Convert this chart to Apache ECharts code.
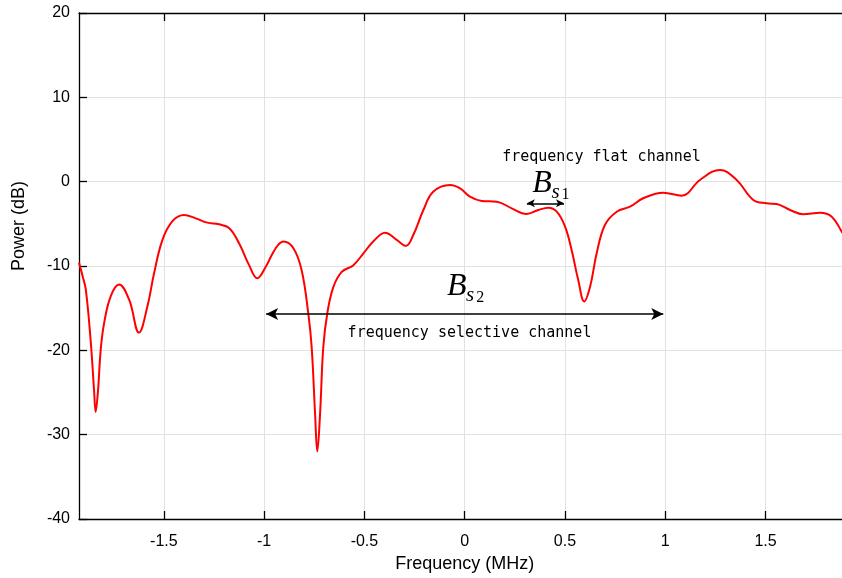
<!DOCTYPE html>
<html>
<head>
<meta charset="utf-8">
<script src="https://cdn.jsdelivr.net/npm/echarts@6/dist/echarts.min.js"></script>
<style>
html,body{margin:0;padding:0;background:#fff;}
#myChart{width:842px;height:578px;}
</style>
</head>
<body>
<div id="myChart"></div>
<script type="text/javascript">
// spectrum curve
var freqMHz = [-1.923, -1.904, -1.889, -1.865, -1.848, -1.840, -1.828, -1.815, -1.798, -1.765,
	-1.723, -1.673, -1.624, -1.582, -1.549, -1.507, -1.458, -1.399, -1.341, -1.283,
	-1.225, -1.175, -1.125, -1.075, -1.034, -0.992, -0.960, -0.930, -0.904, -0.854,
	-0.813, -0.780, -0.763, -0.746, -0.735, -0.721, -0.705, -0.685, -0.655, -0.613,
	-0.555, -0.505, -0.456, -0.397, -0.339, -0.293, -0.256, -0.206, -0.157, -0.073,
	-0.023, 0.026, 0.085, 0.160, 0.234, 0.309, 0.367, 0.417, 0.459, 0.500,
	0.533, 0.566, 0.596, 0.625, 0.658, 0.699, 0.758, 0.824, 0.890, 0.990,
	1.082, 1.173, 1.273, 1.356, 1.439, 1.505, 1.555, 1.622, 1.688, 1.771,
	1.830, 1.880, 1.923];
var powerDb = [-9.6, -11.3, -12.8, -18.8, -24.7, -27.3, -24.7, -20.0, -16.8, -13.6,
	-12.2, -14.0, -17.9, -14.8, -10.9, -6.9, -4.7, -3.95, -4.35, -4.86,
	-5.06, -5.5, -7.3, -9.9, -11.46, -10.1, -8.6, -7.5, -7.1, -7.9,
	-10.5, -15.6, -19.6, -27.5, -32.0, -27.5, -19.6, -15.6, -12.5, -10.7,
	-9.9, -8.5, -7.1, -6.05, -6.9, -7.6, -6.3, -3.36, -1.19, -0.39,
	-0.79, -1.78, -2.29, -2.37, -3.16, -3.83, -3.36, -3.08, -3.56, -5.3,
	-8.1, -11.66, -14.2, -12.46, -8.5, -5.14, -3.56, -2.97, -1.97, -1.30,
	-1.66, 0.20, 1.39, 0.2, -2.17, -2.57, -2.65, -3.36, -3.87, -3.68,
	-4.15, -5.93, -7.6];

var xRange = [-1.923, 1.923];
var xTicks = [-1.5, -1, -0.5, 0, 0.5, 1, 1.5];
var xTickLabels = ['-1.5', '-1', '-0.5', '0', '0.5', '1', '1.5'];
var yRange = [-40, 20];
var yStep = 10;

// annotations (data coordinates)
var bs2Arrow = [-0.99, 0.99, -15.7];
var bs1Arrow = [0.31, 0.495, -2.56];
var bs2Label = [-0.040, -12.46];
var bs1Label = [0.386, -0.25];
var flatText = [0.682, 2.95];
var selectiveText = [0.024, -17.95];
var yNamePos = [-2.2236, -5.25];

var chartDom = document.getElementById('myChart');
var chart = echarts.init(chartDom);

var axisColor = '#000';
var gridColor = '#e2e2e2';
var sansFont = '"Liberation Sans", Arial, Helvetica, sans-serif';

var curve = [];
for (var i = 0; i < freqMHz.length; i++) {
	curve.push([freqMHz[i], powerDb[i]]);
}

var option = {
	animation: false,
	grid: {left: 79, top: 13, bottom: 59, right: -8.4, containLabel: false, outerBoundsMode: 'none'},
	xAxis: [
		{
			type: 'value',
			min: xRange[0],
			max: xRange[1],
			name: 'Frequency (MHz)',
			nameLocation: 'middle',
			nameGap: 35,
			nameTextStyle: {color: '#000', fontSize: 18, fontFamily: sansFont},
			axisLine: {show: true, onZero: false, lineStyle: {color: axisColor, width: 1.3}},
			axisTick: {show: true, inside: true, length: 8, customValues: xTicks, lineStyle: {color: axisColor, width: 1.3}},
			axisLabel: {
				color: '#000', fontSize: 16, fontFamily: sansFont, margin: 15,
				customValues: xTicks,
				formatter: function (v) { return xTickLabels[xTicks.indexOf(v)] || String(v); }
			},
			splitLine: {show: true, lineStyle: {color: gridColor, width: 1}}
		},
		{
			type: 'value',
			position: 'top',
			min: xRange[0],
			max: xRange[1],
			axisLine: {show: true, onZero: false, lineStyle: {color: axisColor, width: 1.3}},
			axisTick: {show: true, inside: true, length: 8, customValues: xTicks, lineStyle: {color: axisColor, width: 1.3}},
			axisLabel: {show: false},
			splitLine: {show: false}
		}
	],
	yAxis: {
		type: 'value',
		min: yRange[0],
		max: yRange[1],
		interval: yStep,
		axisLine: {show: true, onZero: false, lineStyle: {color: axisColor, width: 1.3}},
		axisTick: {show: true, inside: true, length: 8, lineStyle: {color: axisColor, width: 1.3}},
		axisLabel: {color: '#000', fontSize: 16, fontFamily: sansFont, margin: 9},
		splitLine: {show: true, lineStyle: {color: gridColor, width: 1}}
	},
	series: [
		{
			name: 'power',
			type: 'line',
			data: curve,
			smooth: 0.4,
			showSymbol: false,
			symbol: 'none',
			clip: true,
			lineStyle: {color: '#ff0000', width: 2},
			markLine: {
				silent: true,
				animation: false,
				symbol: ['arrow', 'arrow'],
				label: {show: false},
				lineStyle: {color: '#000', width: 1.5, type: 'solid'},
				emphasis: {disabled: true},
				data: [
					[
						{coord: [bs2Arrow[0], bs2Arrow[2]], symbolSize: [9, 12]},
						{coord: [bs2Arrow[1], bs2Arrow[2]], symbolSize: [9, 12]}
					],
					[
						{coord: [bs1Arrow[0], bs1Arrow[2]], symbolSize: [6, 8]},
						{coord: [bs1Arrow[1], bs1Arrow[2]], symbolSize: [6, 8]}
					]
				]
			}
		}
	]
};
chart.setOption(option);

// text labels placed from data coordinates
function toPx(p) {
	return chart.convertToPixel({seriesIndex: 0}, p);
}

function monoText(p, str) {
	var px = toPx(p);
	return {
		type: 'text', x: px[0], y: px[1], silent: true,
		style: {text: str, fill: '#000', font: '15px "DejaVu Sans Mono", monospace', align: 'center', verticalAlign: 'middle'}
	};
}

function mathLabel(p, sub) {
	var px = toPx(p);
	return [
		{
			type: 'text', x: px[0], y: px[1], silent: true,
			style: {text: 'B', fill: '#000', font: 'italic 32px "Liberation Serif", serif', align: 'center', verticalAlign: 'middle'}
		},
		{
			type: 'text', x: px[0] + 13.5, y: px[1] + 9, silent: true,
			style: {text: 's', fill: '#000', font: 'italic 21px "Liberation Serif", serif', align: 'center', verticalAlign: 'middle'}
		},
		{
			type: 'text', x: px[0] + 23.5, y: px[1] + 11, silent: true,
			style: {text: sub, fill: '#000', font: '16px "Liberation Serif", serif', align: 'center', verticalAlign: 'middle'}
		}
	];
}

// y axis title, drawn rotated
var yName = toPx(yNamePos);
var labels = [
	monoText(flatText, 'frequency flat channel'),
	monoText(selectiveText, 'frequency selective channel'),
	{
		type: 'text', x: yName[0], y: yName[1], rotation: Math.PI / 2, silent: true,
		style: {text: 'Power (dB)', fill: '#000', font: '18px ' + sansFont, align: 'center', verticalAlign: 'middle'}
	}
].concat(mathLabel(bs1Label, '1')).concat(mathLabel(bs2Label, '2'));

chart.setOption({graphic: labels});
</script>
</body>
</html>
